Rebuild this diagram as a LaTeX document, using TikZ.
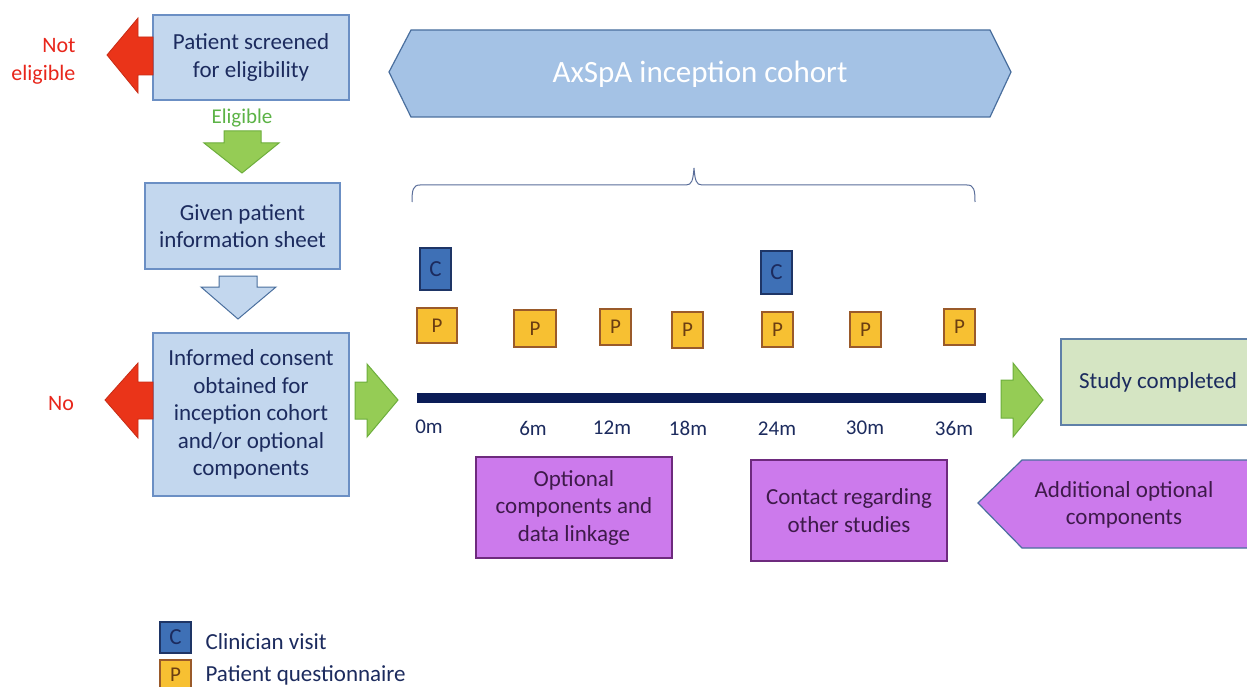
\documentclass[tikz,border=0pt]{standalone}
\usepackage{fontspec}
\setmainfont{Carlito}
\definecolor{boxfill}{HTML}{C3D7EE}
\definecolor{boxdraw}{HTML}{6B8FC4}
\definecolor{navytext}{HTML}{1C2B5E}
\definecolor{bannerfill}{HTML}{A4C2E5}
\definecolor{bannerdraw}{HTML}{4A6F9E}
\definecolor{redarrow}{HTML}{EA3419}
\definecolor{redtext}{HTML}{E8261B}
\definecolor{greenfill}{HTML}{95CC55}
\definecolor{greendraw}{HTML}{6DAE3C}
\definecolor{greentext}{HTML}{5CB346}
\definecolor{barnavy}{HTML}{0B1D57}
\definecolor{cfill}{HTML}{3E70B6}
\definecolor{cdraw}{HTML}{1E3566}
\definecolor{pfill}{HTML}{F7C032}
\definecolor{pdraw}{HTML}{9A5A2A}
\definecolor{ptext}{HTML}{6B3E12}
\definecolor{purplefill}{HTML}{CC7AEC}
\definecolor{purpledraw}{HTML}{6E2A7E}
\definecolor{purpletext}{HTML}{3E1A4A}
\definecolor{studyfill}{HTML}{D5E5C3}
\definecolor{studydraw}{HTML}{5F80A8}
\definecolor{bracecol}{HTML}{5A6E9A}
\begin{document}
\begin{tikzpicture}[x=1pt,y=-1pt,
  txt/.style={font=\fontsize{23}{27.5}\selectfont, text=navytext, align=center},
  bluebox/.style={txt, rectangle, draw=boxdraw, fill=boxfill, line width=1.3pt, inner sep=0pt},
  purplebox/.style={txt, rectangle, draw=purpledraw, fill=purplefill, line width=1.3pt, inner sep=0pt, text=purpletext},
  cbox/.style={rectangle, draw=cdraw, fill=cfill, line width=1.2pt, inner sep=0pt, minimum width=31pt, font=\fontsize{23}{26}\selectfont, text=navytext},
  pbox/.style={rectangle, draw=pdraw, fill=pfill, line width=1.2pt, inner sep=0pt, font=\fontsize{21}{24}\selectfont, text=ptext},
  tlabel/.style={font=\fontsize{21}{25}\selectfont, text=navytext},
  redblock/.style={fill=redarrow, draw=redarrow!85!black, line width=0.8pt, line join=miter},
  greenblock/.style={fill=greenfill, draw=greendraw, line width=1pt, line join=miter},
  blueblock/.style={fill=boxfill, draw=bannerdraw, line width=1pt, line join=miter},
  redlabel/.style={font=\fontsize{22}{28}\selectfont, text=redtext, align=right}
]
\useasboundingbox (0,0) rectangle (1247,687);
\clip (0,0) rectangle (1247,687);
\fill[white] (0,0) rectangle (1247,687);

% left column boxes
\node[bluebox, minimum width=196pt, minimum height=85pt] (screen) at (251,57.5) {Patient screened\\for eligibility};
\node[bluebox, minimum width=195pt, minimum height=86pt] (info) at (242.5,226) {Given patient\\information sheet};
\node[bluebox, minimum width=196pt, minimum height=163pt] (consent) at (251,414.5) {Informed consent\\obtained for\\inception cohort\\and/or optional\\components};

% block arrows
\draw[redblock] (107,55) -- (138,18) -- (138,37) -- (153,37) -- (153,75) -- (138,75) -- (138,93) -- cycle;
\node[redlabel, anchor=east] (noteligible) at (79,61) {Not\\eligible};
\node[font=\fontsize{21}{25}\selectfont, text=greentext] (eligible) at (242,118) {Eligible};
\draw[greenblock] (224,131) -- (261,131) -- (261,143) -- (279,143) -- (242,173) -- (204,143) -- (224,143) -- cycle;
\draw[blueblock] (219,276) -- (257,276) -- (257,287) -- (276,287) -- (238,319) -- (201,287) -- (219,287) -- cycle;
\draw[redblock] (105,400) -- (138,363) -- (138,382) -- (153,382) -- (153,419) -- (138,419) -- (138,438) -- cycle;
\node[font=\fontsize{22}{26}\selectfont, text=redtext] (no) at (61,404) {No};
\draw[greenblock] (355,382) -- (367,382) -- (367,364) -- (398,400) -- (367,437) -- (367,419) -- (355,419) -- cycle;
\draw[greenblock] (1001,380) -- (1013,380) -- (1013,363) -- (1043,400) -- (1013,437) -- (1013,418) -- (1001,418) -- cycle;

% banner
\draw[fill=bannerfill, draw=bannerdraw, line width=1.2pt, line join=miter] (389,72) -- (411,30) -- (990,30) -- (1011,72) -- (990,117) -- (411,117) -- cycle;
\node[font=\fontsize{31}{36}\selectfont, text=white] (cohort) at (700,74) {AxSpA inception cohort};

% brace
\draw[bracecol, line width=1pt] (412,202) .. controls (412,190) and (413,185) .. (420,185) -- (686,185) .. controls (692,185) and (693,180) .. (694,168) .. controls (695,180) and (696,185) .. (702,185) -- (967,185) .. controls (974,185) and (975,190) .. (975,202);

% clinician visits
\node[cbox, minimum height=42pt] (c0) at (435.5,269) {C};
\node[cbox, minimum height=43pt] (c24) at (776.5,272.5) {C};

% patient questionnaires
\node[pbox, minimum width=40pt, minimum height=35pt] (p0) at (437,325.5) {P};
\node[pbox, minimum width=42pt, minimum height=37pt] (p6) at (535,328.5) {P};
\node[pbox, minimum width=31pt, minimum height=36pt] (p12) at (615.5,327) {P};
\node[pbox, minimum width=31pt, minimum height=36pt] (p18) at (687.5,330) {P};
\node[pbox, minimum width=31pt, minimum height=35pt] (p24) at (777.5,329.5) {P};
\node[pbox, minimum width=31pt, minimum height=35pt] (p30) at (865.5,329.5) {P};
\node[pbox, minimum width=31pt, minimum height=36pt] (p36) at (959.5,327) {P};

% timeline
\fill[barnavy] (417,393) rectangle (986,403);
\node[tlabel] (m0) at (429,427) {0m};
\node[tlabel] (m6) at (533,428) {6m};
\node[tlabel] (m12) at (612,428) {12m};
\node[tlabel] (m18) at (688,428) {18m};
\node[tlabel] (m24) at (777,429) {24m};
\node[tlabel] (m30) at (865,428) {30m};
\node[tlabel] (m36) at (954,428) {36m};

% study completed
\node[txt, rectangle, draw=studydraw, fill=studyfill, line width=1.3pt, inner sep=0pt, minimum width=194pt, minimum height=86pt] (study) at (1158,382) {Study completed};

% purple boxes
\node[purplebox, minimum width=196pt, minimum height=101pt] (optional) at (574,507.5) {Optional\\components and\\data linkage};
\node[purplebox, minimum width=196pt, minimum height=101pt] (contact) at (849,510.5) {Contact regarding\\other studies};
\draw[fill=purplefill, draw=bannerdraw, line width=1.2pt, line join=miter] (978,503) -- (1022,460) -- (1258,460) -- (1258,548) -- (1022,548) -- cycle;
\node[txt, text=purpletext] (additional) at (1124,505) {Additional optional\\components};

% legend
\node[cbox, minimum height=31pt] (legc) at (175.5,637.5) {C};
\node[pbox, minimum width=31pt, minimum height=30pt] (legp) at (175.5,675) {P};
\node[txt, anchor=west] (legctext) at (202,642) {Clinician visit};
\node[txt, anchor=west] (legptext) at (202,675) {Patient questionnaire};
\end{tikzpicture}
\end{document}
